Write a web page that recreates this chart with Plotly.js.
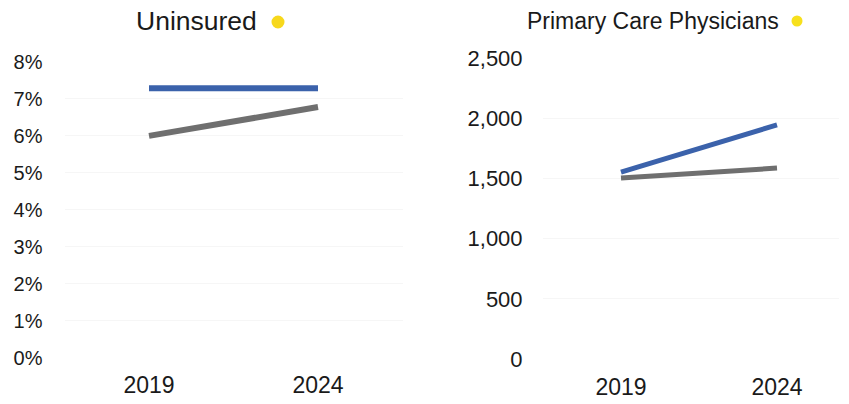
<!DOCTYPE html>
<html>
<head>
<meta charset="utf-8">
<script src="https://cdn.plot.ly/plotly-3.0.1.min.js"></script>
<style>
html,body{margin:0;padding:0;background:#fff;}
#chart{width:849px;height:404px;}
</style>
</head>
<body>
<div id="chart"></div>
<script>
// Data
const years = ['2019', '2024'];
const uninsuredBlue = [7.28, 7.28];
const uninsuredGray = [5.99, 6.77];
const pcpBlue = [1553, 1944];
const pcpGray = [1503, 1586];
const uninsuredTickVals = [0, 1, 2, 3, 4, 5, 6, 7, 8];
const uninsuredTickText = ['0%', '1%', '2%', '3%', '4%', '5%', '6%', '7%', '8%'];
const pcpTickVals = [0, 500, 1000, 1500, 2000, 2500];
const pcpTickText = ['0', '500', '1,000', '1,500', '2,000', '2,500'];
const titles = ['Uninsured', 'Primary Care Physicians'];

const W = 849, H = 404;
const px = v => v / W;
const py = v => 1 - v / H;

const FONT = 'Liberation Sans, Arial, sans-serif';
const BLUE = '#3b62ab';
const GRAY = '#6f6f6f';
const TXT = '#1a1a1a';

const traces = [
  {x: years, y: uninsuredGray, xaxis: 'x', yaxis: 'y', mode: 'lines',
   line: {color: GRAY, width: 6}, hoverinfo: 'skip'},
  {x: years, y: uninsuredBlue, xaxis: 'x', yaxis: 'y', mode: 'lines',
   line: {color: BLUE, width: 6}, hoverinfo: 'skip'},
  {x: years, y: pcpGray, xaxis: 'x2', yaxis: 'y2', mode: 'lines',
   line: {color: GRAY, width: 5}, hoverinfo: 'skip'},
  {x: years, y: pcpBlue, xaxis: 'x2', yaxis: 'y2', mode: 'lines',
   line: {color: BLUE, width: 5}, hoverinfo: 'skip'}
];

const layout = {
  width: W, height: H,
  margin: {l: 0, r: 0, t: 0, b: 0},
  paper_bgcolor: '#ffffff', plot_bgcolor: '#ffffff',
  showlegend: false,
  font: {family: FONT, color: TXT},
  xaxis: {
    domain: [px(64.5), px(402.5)], range: [-0.5, 1.5], type: 'category',
    anchor: 'y', showgrid: false, zeroline: false, showline: false,
    ticks: 'outside', ticklen: 7, tickcolor: 'rgba(0,0,0,0)',
    tickfont: {size: 23, color: TXT, family: FONT}
  },
  yaxis: {
    domain: [(H - 357.5) / H, (H - 61.5) / H], range: [0, 8],
    anchor: 'x', tickmode: 'array', tickvals: uninsuredTickVals, ticktext: uninsuredTickText,
    showgrid: true, gridcolor: '#f6f6f6', gridwidth: 1,
    zeroline: false, showline: false,
    ticks: 'outside', ticklen: 17, tickcolor: 'rgba(0,0,0,0)',
    tickfont: {size: 20, color: TXT, family: FONT}
  },
  xaxis2: {
    domain: [px(543), px(839.4)], range: [-0.5, 1.4], type: 'category',
    anchor: 'y2', showgrid: false, zeroline: false, showline: false,
    ticks: 'outside', ticklen: 7, tickcolor: 'rgba(0,0,0,0)',
    tickfont: {size: 23, color: TXT, family: FONT}
  },
  yaxis2: {
    domain: [(H - 359) / H, (H - 58) / H], range: [0, 2500],
    anchor: 'x2', tickmode: 'array', tickvals: pcpTickVals, ticktext: pcpTickText,
    showgrid: true, gridcolor: '#f6f6f6', gridwidth: 1,
    zeroline: false, showline: false,
    ticks: 'outside', ticklen: 15, tickcolor: 'rgba(0,0,0,0)',
    tickfont: {size: 22, color: TXT, family: FONT}
  },
  annotations: [
    {text: titles[0], xref: 'paper', yref: 'paper', x: px(196), y: py(21),
     xanchor: 'center', yanchor: 'middle', showarrow: false,
     font: {size: 26.5, color: TXT, family: FONT}},
    {text: titles[1], xref: 'paper', yref: 'paper', x: px(653), y: py(21),
     xanchor: 'center', yanchor: 'middle', showarrow: false,
     font: {size: 23, color: TXT, family: FONT}}
  ],
  shapes: [
    {type: 'circle', xref: 'paper', yref: 'paper', xsizemode: 'pixel', ysizemode: 'pixel',
     xanchor: px(278), yanchor: py(22), x0: -6.5, x1: 6.5, y0: -6.5, y1: 6.5,
     fillcolor: '#f7d81c', line: {width: 0}},
    {type: 'circle', xref: 'paper', yref: 'paper', xsizemode: 'pixel', ysizemode: 'pixel',
     xanchor: px(797), yanchor: py(21), x0: -5.5, x1: 5.5, y0: -5.5, y1: 5.5,
     fillcolor: '#f7e01c', line: {width: 0}}
  ]
};

Plotly.newPlot('chart', traces, layout, {staticPlot: true, displayModeBar: false});
</script>
</body>
</html>
